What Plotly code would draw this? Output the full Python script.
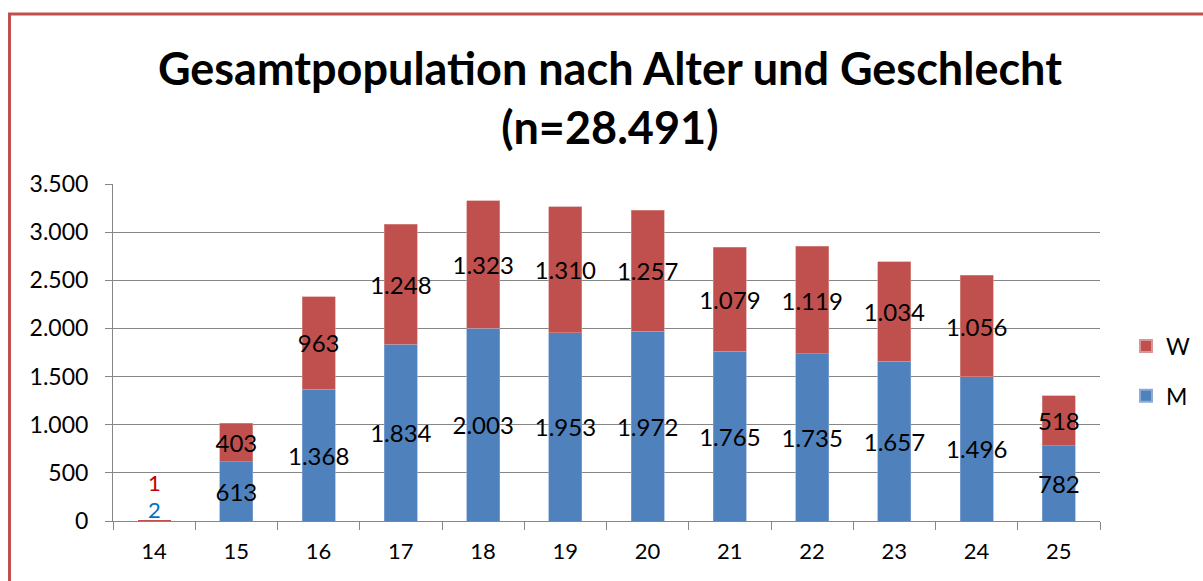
import plotly.graph_objects as go

ages = ["14", "15", "16", "17", "18", "19", "20", "21", "22", "23", "24", "25"]
m_vals = [2, 613, 1368, 1834, 2003, 1953, 1972, 1765, 1735, 1657, 1496, 782]
w_vals = [1, 403, 963, 1248, 1323, 1310, 1257, 1079, 1119, 1034, 1056, 518]
y_ticks = [0, 500, 1000, 1500, 2000, 2500, 3000, 3500]

C_M = "#4F81BD"
C_W = "#C0504D"
FONT = "Lato"
LBL = 24

# small-value labels (age 14) are shown beside the bars with coloured text
tpos = ["none"] + ["inside"] * (len(ages) - 1)
outline_w = [0] + [0.6] * (len(ages) - 1)

fig = go.Figure()
fig.add_trace(go.Bar(
    x=ages, y=m_vals, name="M", legendgroup="m", legendrank=2,
    marker=dict(color=C_M, line=dict(color="#8EAAD6", width=outline_w)),
    texttemplate="%{y:,}", textposition=tpos, insidetextanchor="middle",
    constraintext="none", textangle=0,
    textfont=dict(color="black", size=LBL, family=FONT),
))
fig.add_trace(go.Bar(
    x=ages, y=w_vals, name="W", legendgroup="w", legendrank=1,
    marker=dict(color=C_W, line=dict(color="#D99694", width=outline_w)),
    texttemplate="%{y:,}", textposition=tpos, insidetextanchor="middle",
    constraintext="none", textangle=0,
    textfont=dict(color="black", size=LBL, family=FONT),
))

annotations = [
    dict(x=0, y=400, text=str(w_vals[0]), showarrow=False,
         font=dict(color="#C00000", size=22, family=FONT), xref="x", yref="y"),
    dict(x=0, y=120, text=str(m_vals[0]), showarrow=False,
         font=dict(color="#0070C0", size=22, family=FONT), xref="x", yref="y"),
]

# chart border (red, left and top edges visible)
L, R, T, B = 113, 1100, 184, 521
pw, ph = R - L, B - T
def px_x(p):
    return (p - L) / pw
def px_y(p):
    return (B - p) / ph
shapes = [
    dict(type="line", xref="paper", yref="paper", x0=px_x(9.5), x1=px_x(9.5),
         y0=px_y(13), y1=px_y(600), line=dict(color=C_W, width=3)),
    dict(type="line", xref="paper", yref="paper", x0=px_x(8), x1=px_x(1210),
         y0=px_y(14), y1=px_y(14), line=dict(color=C_W, width=3)),
]

fig.update_layout(
    width=1203, height=581,
    barmode="stack", bargap=0.6,
    separators=",.",
    paper_bgcolor="white", plot_bgcolor="white",
    margin=dict(l=L, r=1203 - R, t=T, b=581 - B, autoexpand=False),
    font=dict(family=FONT, size=22, color="black"),
    title=dict(text="<b>Gesamtpopulation nach Alter und Geschlecht<br>(n=28.491)</b>",
               x=0.507, xanchor="center", y=1 - 85 / 581, yanchor="middle",
               font=dict(family=FONT, size=45, color="black")),
    xaxis=dict(
        type="category", range=[-0.5, len(ages) - 0.5],
        showgrid=False, showline=True, linecolor="#868686", linewidth=1,
        ticks="outside", tickson="boundaries", ticklen=8, tickcolor="#868686",
        tickfont=dict(size=22, family=FONT), ticklabelstandoff=11,
    ),
    yaxis=dict(
        range=[0, 3500], tickvals=y_ticks, tickformat=",",
        showgrid=True, gridcolor="#868686", gridwidth=1,
        showline=True, linecolor="#868686", linewidth=1,
        ticks="outside", ticklen=7, tickcolor="#868686",
        tickfont=dict(size=23, family=FONT), ticklabelstandoff=12, zeroline=False,
    ),
    legend=dict(
        x=px_x(1126), xanchor="left", y=px_y(371), yanchor="middle",
        traceorder="grouped", font=dict(size=23, family=FONT),
        tracegroupgap=17, itemsizing="constant", itemwidth=30,
    ),
    annotations=annotations, shapes=shapes,
)

fig.write_html("out.html", config={"displayModeBar": False},
               post_script="document.body.style.margin='0';")
